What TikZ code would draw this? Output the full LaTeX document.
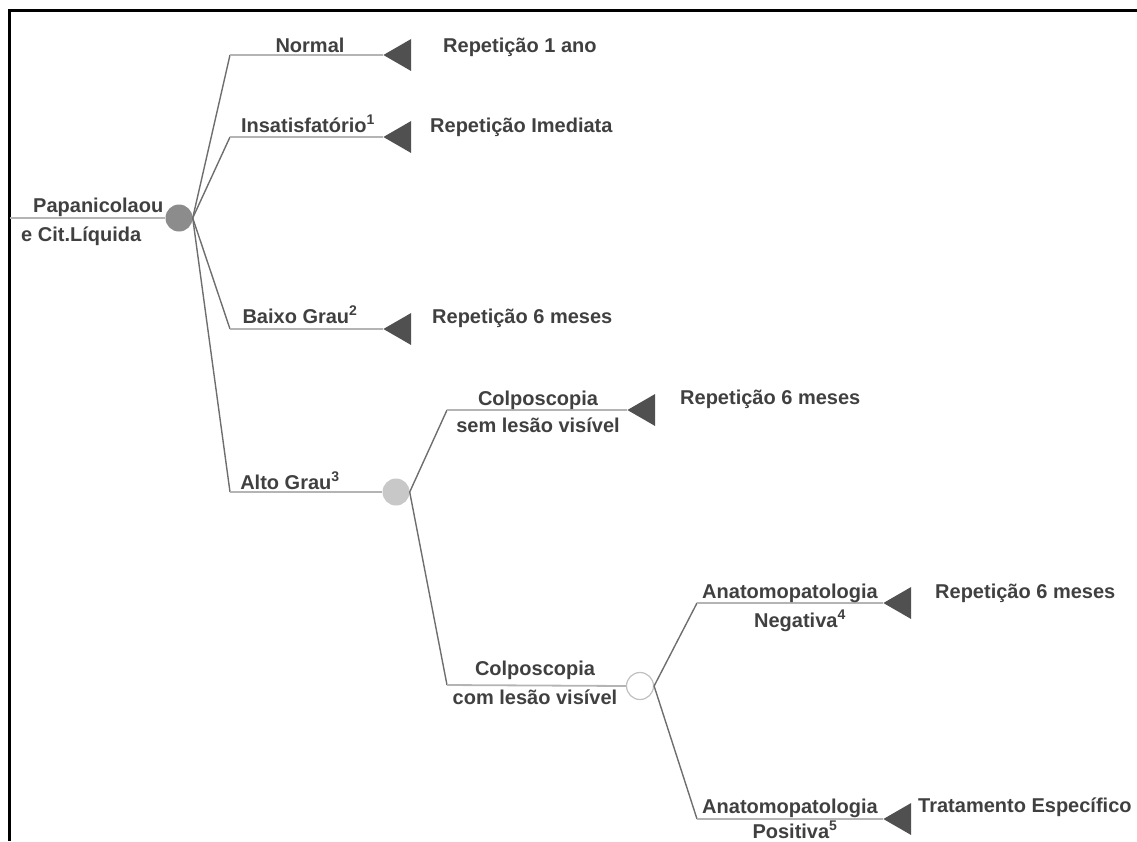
\documentclass[tikz,border=0pt]{standalone}
\usepackage{fontspec}
\setmainfont{Liberation Sans}
\usetikzlibrary{shapes.geometric}
\definecolor{txt}{HTML}{404040}
\definecolor{stemgray}{HTML}{6E6E6E}
\definecolor{railgray}{HTML}{B4B4B4}
\definecolor{trigray}{HTML}{505050}
\definecolor{rootgray}{HTML}{8C8C8C}
\definecolor{midgray}{HTML}{C8C8C8}
\definecolor{ringgray}{HTML}{C0C0C0}
\begin{document}
\begin{tikzpicture}[x=1pt,y=-1pt,
  lbl/.style={font=\bfseries\fontsize{20}{24}\selectfont, text=txt, inner sep=0pt, anchor=base},
  lblw/.style={lbl, anchor=base west},
  stem/.style={draw=stemgray, line width=1.4pt},
  rail/.style={draw=railgray, line width=1.8pt},
  tri/.style={regular polygon, regular polygon sides=3, shape border rotate=90,
    fill=trigray, inner sep=0pt, minimum size=37pt, anchor=corner 1},
  chance/.style={circle, inner sep=0pt, minimum size=27pt}
]
\useasboundingbox (0,0) rectangle (1137,841);

% frame
\draw[line width=3pt] (9,841) -- (9,10) -- (1137,10);

% root chance node
\coordinate (in) at (10,218);
\node[chance, fill=rootgray] (root) at (179,218) {};
\draw[rail] (in) -- (root.west);
\node[lblw] (papa1) at (33,212) {Papanicolaou};
\node[lblw] (papa2) at (21,241) {e Cit.Líquida};

% first-level branches
\coordinate (cN) at (230,55);
\coordinate (cI) at (230,137);
\coordinate (cB) at (230,329);
\coordinate (cA) at (230,492);
\node[tri] (tN) at (383,55) {};
\node[tri] (tI) at (383,137) {};
\node[tri] (tB) at (383,329) {};
\node[chance, fill=midgray] (alto) at (396,492) {};

\draw[stem] (root.east) -- (cN);
\draw[stem] (root.east) -- (cI);
\draw[stem] (root.east) -- (cB);
\draw[stem] (root.east) -- (cA);
\draw[rail] (cN) -- (tN.corner 1);
\draw[rail] (cI) -- (tI.corner 1);
\draw[rail] (cB) -- (tB.corner 1);
\draw[rail] (cA) -- (alto.west);

\node[lbl] (lN) at (310,52) {Normal};
\node[lbl] (lI) at (308,132) {Insatisfatório\textsuperscript{1}};
\node[lbl] (lB) at (300,323) {Baixo Grau\textsuperscript{2}};
\node[lbl] (lA) at (290,489) {Alto Grau\textsuperscript{3}};
\node[lblw] (rN) at (443,52) {Repetição 1 ano};
\node[lblw] (rI) at (430,132) {Repetição Imediata};
\node[lblw] (rB) at (432,323) {Repetição 6 meses};

% second-level branches
\coordinate (cS) at (447,410);
\coordinate (cC) at (447,685);
\node[tri] (tS) at (627,410) {};
\node[chance, draw=ringgray, line width=1.2pt, fill=white] (lesao) at (640,686) {};
\draw[stem] (alto.east) -- (cS);
\draw[stem] (alto.east) -- (cC);
\draw[rail] (cS) -- (tS.corner 1);
\draw[rail] (cC) -- (lesao.west);

\node[lbl] (lS1) at (538,405) {Colposcopia};
\node[lbl] (lS2) at (538,432) {sem lesão visível};
\node[lblw] (rS) at (680,404) {Repetição 6 meses};
\node[lbl] (lC1) at (535,675) {Colposcopia};
\node[lbl] (lC2) at (535,704) {com lesão visível};

% third-level branches
\coordinate (cNeg) at (697,603);
\coordinate (cPos) at (697,819);
\node[tri] (tNeg) at (883,603) {};
\node[tri] (tPos) at (883,819) {};
\draw[stem] (lesao.east) -- (cNeg);
\draw[stem] (lesao.east) -- (cPos);
\draw[rail] (cNeg) -- (tNeg.corner 1);
\draw[rail] (cPos) -- (tPos.corner 1);

\node[lbl] (lNeg1) at (790,598) {Anatomopatologia};
\node[lbl] (lNeg2) at (800,627) {Negativa\textsuperscript{4}};
\node[lblw] (rNeg) at (935,598) {Repetição 6 meses};
\node[lbl] (lPos1) at (790,813) {Anatomopatologia};
\node[lbl] (lPos2) at (795,838) {Positiva\textsuperscript{5}};
\node[lblw] (rPos) at (918,812) {Tratamento Específico};
\end{tikzpicture}
\end{document}
